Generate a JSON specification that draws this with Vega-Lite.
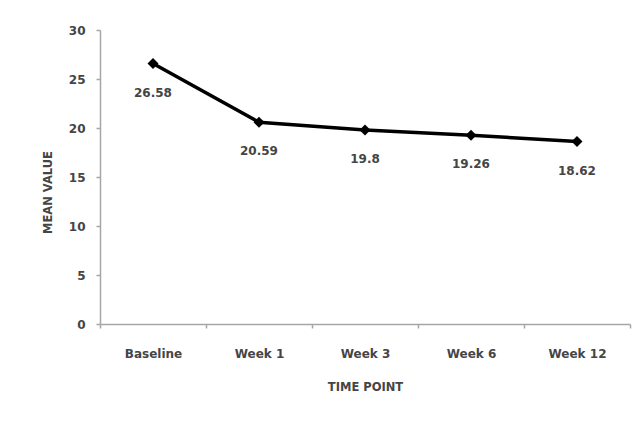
{
  "$schema": "https://vega.github.io/schema/vega-lite/v6.json",
  "width": 530,
  "height": 294,
  "autosize": "none",
  "padding": {"left": 100, "top": 30, "right": 11, "bottom": 100},
  "background": "white",
  "data": {
    "values": [
      {"time": "Baseline", "mean": 26.58, "label": "26.58"},
      {"time": "Week 1", "mean": 20.59, "label": "20.59"},
      {"time": "Week 3", "mean": 19.8, "label": "19.8"},
      {"time": "Week 6", "mean": 19.26, "label": "19.26"},
      {"time": "Week 12", "mean": 18.62, "label": "18.62"}
    ]
  },
  "encoding": {
    "x": {
      "field": "time",
      "type": "nominal",
      "sort": null,
      "scale": {"type": "band", "paddingInner": 0, "paddingOuter": 0},
      "axis": {
        "title": "TIME POINT",
        "labelAngle": 0,
        "tickBand": "extent",
        "tickSize": 4,
        "labelPadding": 20,
        "titlePadding": 22
      }
    },
    "y": {
      "field": "mean",
      "type": "quantitative",
      "scale": {"domain": [0, 30], "nice": false},
      "axis": {
        "title": "MEAN VALUE",
        "values": [0, 5, 10, 15, 20, 25, 30],
        "grid": false,
        "tickSize": 4,
        "labelPadding": 11,
        "titlePadding": 15,
        "titleY": 162
      }
    }
  },
  "layer": [
    {
      "mark": {"type": "line", "color": "black", "strokeWidth": 3.5}
    },
    {
      "mark": {"type": "point", "shape": "diamond", "filled": true, "color": "black", "size": 120, "opacity": 1}
    },
    {
      "mark": {"type": "text", "dy": 29, "font": "DejaVu Sans", "fontSize": 12, "fontWeight": "bold", "color": "#454545"},
      "encoding": {"text": {"field": "label"}}
    }
  ],
  "config": {
    "view": {"stroke": null},
    "axis": {
      "domainColor": "#a6a6a6",
      "domainWidth": 1.5,
      "tickColor": "#a6a6a6",
      "tickWidth": 1.5,
      "labelFont": "DejaVu Sans",
      "labelFontSize": 12,
      "labelFontWeight": "bold",
      "labelColor": "#454545",
      "titleFont": "DejaVu Sans",
      "titleFontSize": 11.5,
      "titleFontWeight": "bold",
      "titleColor": "#454545"
    }
  }
}
